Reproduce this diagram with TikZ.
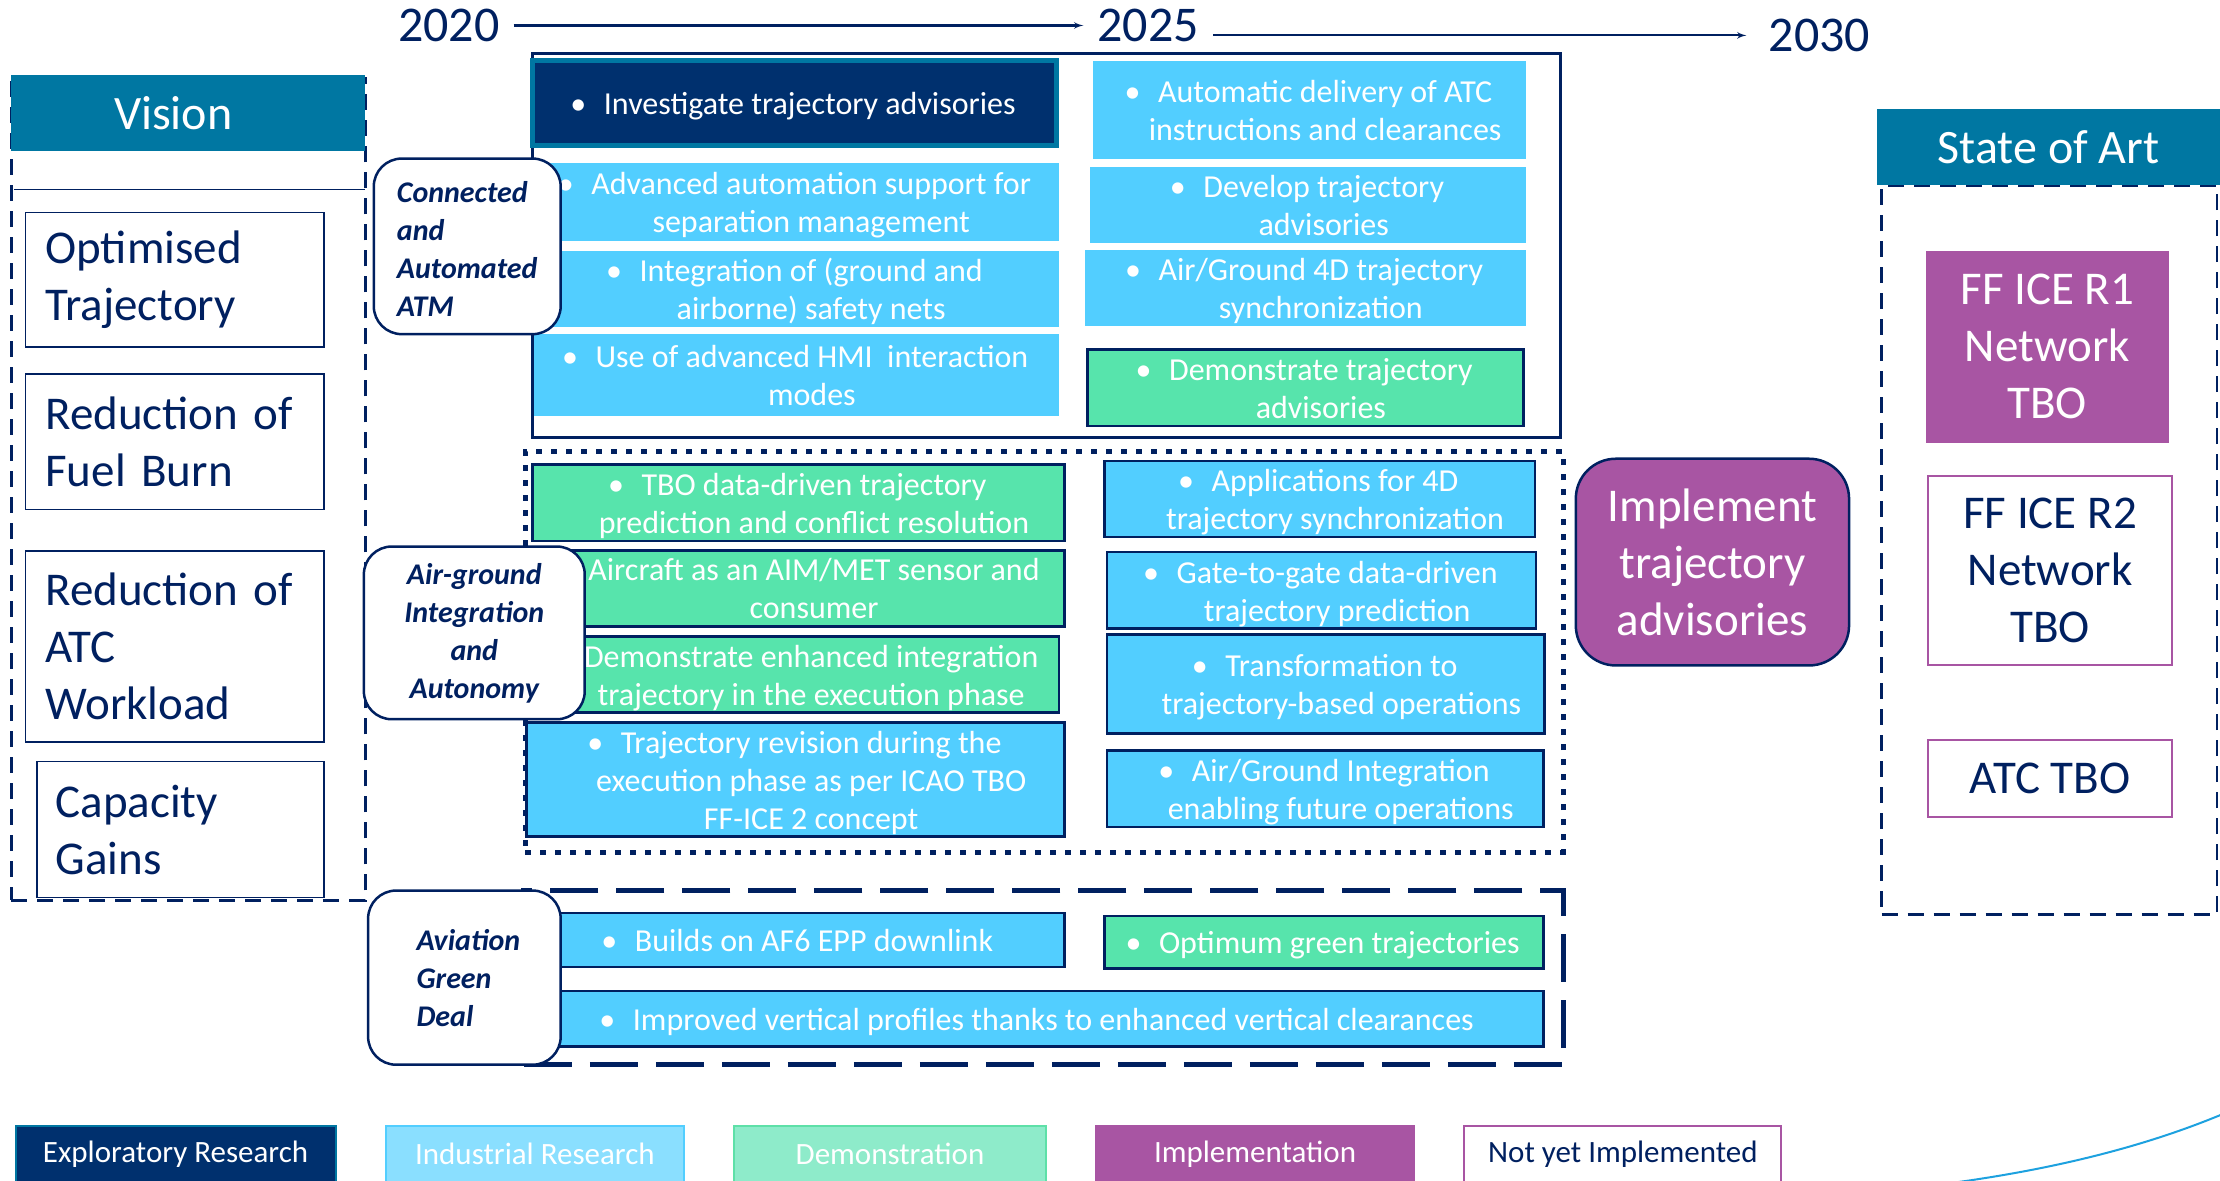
\documentclass[tikz,border=0pt]{standalone}
\usepackage{fontspec}
\setmainfont{Carlito}
\usetikzlibrary{arrows,shapes,positioning,calc}
\definecolor{colNavy}{HTML}{002060}
\definecolor{colHead}{HTML}{0077A2}
\definecolor{colDeep}{HTML}{00306E}
\definecolor{colSky}{HTML}{52CEFF}
\definecolor{colMint}{HTML}{57E4AC}
\definecolor{colPlum}{HTML}{A855A3}
\definecolor{legSky}{HTML}{8ADFFF}
\definecolor{legMint}{HTML}{8EEBCA}
\definecolor{legMintB}{HTML}{5EE0A8}
\definecolor{colArc}{HTML}{1DA1DF}
\newcommand{\upx}{1.4158pt}
%% bulleted text, bullet hanging to the left
\newcommand{\bitem}[1]{\hspace*{31pt}\raisebox{-4pt}[\height][\depth]{%
  \begin{tabular}{@{}c@{}}\llap{•\hspace{0.55em}}#1\end{tabular}}}

\begin{document}
\begin{tikzpicture}
[x=1.4158pt,y=-1.4158pt,
sz/.style 2 args={minimum width=#1*\upx,minimum height=#2*\upx},
txt/.style={font=\fontsize{32}{38}\selectfont,align=center,inner sep=0pt},
big/.style={font=\fontsize{47}{57}\selectfont},
sky/.style={txt,fill=colSky,text=white},
skyb/.style={sky,draw=colNavy,line width=2.5pt},
mint/.style={txt,fill=colMint,text=white,draw=colNavy,line width=2.5pt},
theme/.style={draw=colNavy,line width=2.5pt,fill=white,rounded corners=28pt,
  font=\fontsize{30}{38}\selectfont\bfseries\itshape,text=colNavy,inner sep=0pt},
goal/.style={draw=colNavy,line width=1.5pt,fill=white,big,text=colNavy,
  align=left,inner sep=0pt},
head/.style={fill=colHead,text=white,font=\fontsize{48}{57}\selectfont,inner sep=0pt},
soa/.style={big,align=center,inner sep=0pt,line width=2pt},
year/.style={font=\fontsize{50}{60}\selectfont,text=colNavy,inner sep=14pt},
leg/.style={font=\fontsize{31}{38}\selectfont,inner sep=0pt,line width=2pt},
timeedge/.style={>=latex',->,colNavy,line width=2.2pt},
dashframe/.style={draw=colNavy,line width=2.5pt,dash pattern=on 16pt off 10pt}]
\useasboundingbox (0,0) rectangle (1568,834);
%%%%%%%%%%
%%%%% timeline
\node (y20) [year] at (317,18) {2020};
\node (y25) [year] at (811,18) {2025};
\node (y30) [year,inner sep=22pt] at (1285,25) {2030};
\draw[timeedge] (y20) -- (y25);
\draw[timeedge] (y25.east |- y30) -- (y30);
%%%%%%%%%%
%%%%% vision
\node (vfr) [dashframe,sz={250}{581}] at (133,345.5) {};
\node (vis) [head,sz={250}{54}] at (133,80) {Vision\hspace*{30pt}};
\draw[colNavy,line width=1.5pt] (10,134) -- (258,134);
\node (o1) [goal,sz={211}{95},text width=259pt] at (123.5,197.5) {Optimised\\Trajectory};
\node (o2) [goal,sz={211}{96},text width=259pt] at (123.5,312) {Reduction of\\Fuel Burn};
\node (o3) [goal,sz={211}{135},text width=259pt] at (123.5,456.5) {Reduction of\\ATC\\Workload};
\node (o4) [goal,sz={203}{96},text width=250pt] at (127.5,586) {Capacity\\Gains};
%%%%%%%%%%
%%%%% connected and automated ATM
\node (g1) [sz={726}{271},draw=colNavy,line width=3pt] at (739,173.5) {};
\node (i1) [txt,fill=colDeep,draw=colHead,line width=5pt,text=white,sz={370}{60}]
  at (561,73) {\bitem{Investigate trajectory advisories}};
\node (i2) [sky,sz={372}{55}] at (562,142.5) {\bitem{Advanced automation support for\\separation management}};
\node (i3) [sky,sz={372}{52}] at (562,204) {\bitem{Integration of (ground and\\airborne) safety nets}};
\node (i4) [sky,sz={371}{58}] at (562.5,265) {\bitem{Use of advanced HMI\ \ interaction\\modes}};
\node (j1) [sky,sz={306}{69}] at (925,77.5) {\bitem{Automatic delivery of ATC\\instructions and clearances}};
\node (j2) [sky,sz={308}{50}] at (924,145) {\bitem{Develop trajectory\\advisories}};
\node (j3) [sky,sz={312}{53}] at (922,203.5) {\bitem{Air/Ground 4D trajectory\\synchronization}};
\node (j4) [mint,sz={308}{54}] at (922,274) {\bitem{Demonstrate trajectory\\advisories}};
\node (t1) [theme,align=left,sz={132}{124}] at (330,174)
  {\raisebox{-6pt}[\height][\depth]{\begin{tabular}{@{}l@{}}Connected\\and\\Automated\\ATM\end{tabular}}};
%%%%%%%%%%
%%%%% air-ground integration
\node (g2) [sz={733}{283},draw=colNavy,line width=5pt,dash pattern=on 6pt off 9pt] at (737.5,460.5) {};
\node (k1) [mint,sz={376}{54}] at (564,355) {\bitem{TBO data-driven trajectory\\prediction and conflict resolution}};
\node (k2) [mint,sz={376}{51}] at (564,415.5) {\bitem{Aircraft as an AIM/MET sensor and\\consumer}};
\node (k3) [mint,sz={372}{53}] at (562,476.5) {\bitem{Demonstrate enhanced integration\\trajectory in the execution phase}};
\node (k4) [skyb,sz={380}{75}] at (562,550.5) {\bitem{Trajectory revision during the\\execution phase as per ICAO TBO\\FF-ICE 2 concept}};
\node (m1) [skyb,sz={304}{51}] at (932,352.5) {\bitem{Applications for 4D\\trajectory synchronization}};
\node (m2) [skyb,sz={303}{54}] at (933.5,417) {\bitem{Gate-to-gate data-driven\\trajectory prediction}};
\node (m3) [skyb,sz={309}{70}] at (936.5,483) {\bitem{Transformation to\\trajectory-based operations}};
\node (m4) [skyb,sz={308}{54}] at (936,557) {\bitem{Air/Ground Integration\\enabling future operations}};
\node (t2) [theme,align=center,sz={156}{122}] at (335,447) {Air-ground\\Integration\\and\\Autonomy};
\node (impl) [fill=colPlum,draw=colNavy,line width=2.5pt,rounded corners=40pt,text=white,
  big,align=center,inner sep=0pt,sz={193}{146}] at (1209.5,397) {Implement\\trajectory\\advisories};
%%%%%%%%%%
%%%%% green deal
\node (g3) [sz={734}{123},draw=colNavy,line width=5pt,dash pattern=on 48pt off 18pt] at (737,690.5) {};
\node (n1) [skyb,sz={376}{38}] at (564,664) {\bitem{Builds on AF6 EPP downlink}};
\node (n2) [mint,sz={310}{37}] at (935,665.5) {\bitem{Optimum green trajectories}};
\node (n3) [skyb,sz={714}{39}] at (733,719.5) {\bitem{Improved vertical profiles thanks to enhanced vertical clearances}};
\node (t3) [theme,align=left,sz={136}{123}] at (328,690.5) {\hspace*{8pt}Aviation\\\hspace*{8pt}Green\\\hspace*{8pt}Deal};
%%%%%%%%%%
%%%%% state of art
\node (sfr) [dashframe,sz={237}{515}] at (1447.5,388.5) {};
\node (soa) [head,sz={242}{54}] at (1447,104) {State of Art};
\node (s1) [soa,fill=colPlum,text=white,sz={172}{136}] at (1446,245) {FF ICE R1\\Network\\TBO};
\node (s2) [soa,draw=colPlum,fill=white,text=colNavy,sz={172}{134}] at (1448,403) {FF ICE R2\\Network\\TBO};
\node (s3) [soa,draw=colPlum,fill=white,text=colNavy,sz={172}{54}] at (1448,550) {ATC TBO};
%%%%%%%%%%
%%%%% legend
\node (lg1) [leg,fill=colDeep,draw=colHead,text=white,sz={226}{40}] at (124,815) {Exploratory Research};
\node (lg2) [leg,fill=legSky,draw=colSky,text=white,sz={211}{40},right=48pt of lg1] {Industrial Research};
\node (lg3) [leg,fill=legMint,draw=legMintB,text=white,sz={220}{40},right=48pt of lg2] {Demonstration};
\node (lg4) [leg,fill=colPlum,draw=colPlum,text=white,sz={225}{40},right=48pt of lg3] {Implementation};
\node (lg5) [leg,fill=white,draw=colPlum,text=colNavy,sz={224}{40},right=48pt of lg4] {Not yet Implemented};
\draw[colArc,line width=2pt] (1375,836) .. controls (1450,826) and (1515,810) .. (1572,786);
\end{tikzpicture}
\end{document}
